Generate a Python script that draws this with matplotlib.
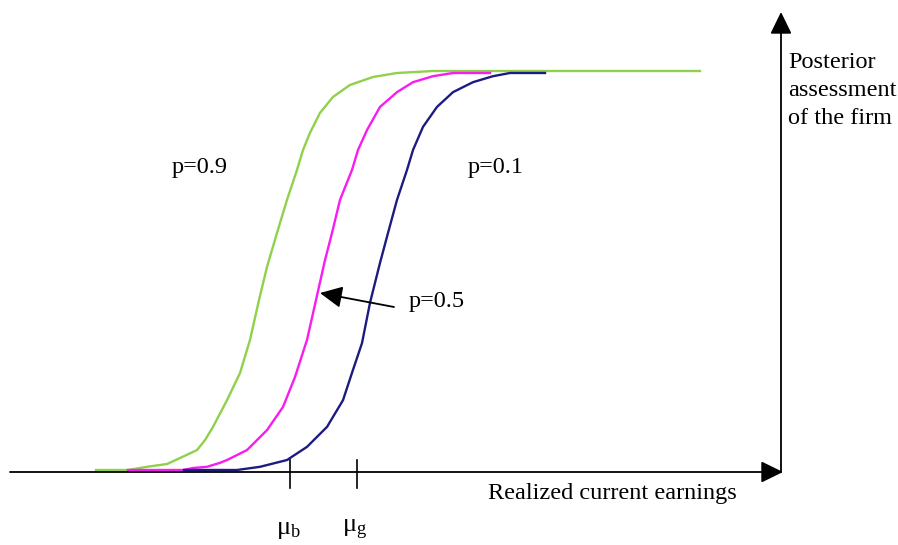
import matplotlib
matplotlib.use("Agg")
import matplotlib.pyplot as plt

# ---- data (x in earnings units, y = posterior assessment, 0..1) ----
green_x = [96, 128, 147, 167, 180, 197, 205, 213, 227, 240, 250, 259, 267, 277, 287, 297,
           303, 310, 320, 333, 350, 373, 397, 433, 700]
green_y = [0, 0, 0.008, 0.015, 0.030, 0.050, 0.075, 0.108, 0.175, 0.243, 0.326, 0.426, 0.509,
           0.594, 0.677, 0.752, 0.802, 0.845, 0.895, 0.935, 0.965, 0.985, 0.995, 1.0, 1.0]

magenta_x = [128, 183, 193, 207, 220, 227, 247, 267, 283, 295, 307, 316, 325, 332, 340, 352,
             358, 367, 380, 397, 413, 433, 453, 490]
magenta_y = [0, 0, 0.005, 0.008, 0.018, 0.025, 0.050, 0.100, 0.158, 0.233, 0.326, 0.426, 0.526,
             0.594, 0.677, 0.752, 0.802, 0.852, 0.910, 0.947, 0.972, 0.987, 0.995, 0.995]

navy_x = [184, 237, 260, 287, 307, 327, 343, 353, 362, 370, 380, 388, 397, 407, 413, 423,
          437, 453, 473, 493, 510, 545]
navy_y = [0, 0, 0.008, 0.025, 0.058, 0.108, 0.175, 0.251, 0.318, 0.419, 0.519, 0.594, 0.677,
          0.752, 0.802, 0.860, 0.910, 0.947, 0.972, 0.987, 0.995, 0.995]

series_labels = ["p=0.9", "p=0.5", "p=0.1"]
tick_positions = [290, 357]
tick_labels = [r"$\mu_{\mathrm{b}}$", r"$\mu_{\mathrm{g}}$"]
xlabel = "Realized current earnings"
ylabel = "Posterior\nassessment\nof the firm"

# ---- styling ----
plt.rcParams["font.family"] = ["Liberation Serif", "DejaVu Serif"]
plt.rcParams["mathtext.fontset"] = "custom"
plt.rcParams["mathtext.rm"] = "Liberation Serif"
plt.rcParams["mathtext.it"] = "Liberation Serif"
FS = 17.5

fig = plt.figure(figsize=(8.98, 5.45), dpi=100)
ax = fig.add_axes([0, 0, 1, 1])
ax.set_xlim(0, 898)
ax.set_ylim((470 - 545) / 399, 470 / 399)
ax.axis("off")


def yv(py):
    return (470 - py) / 399


ax.plot(green_x, green_y, color="#8fd14a", lw=1.7, solid_joinstyle="round")
ax.plot(magenta_x, magenta_y, color="#f81cf0", lw=1.7, solid_joinstyle="round")
ax.plot(navy_x, navy_y, color="#1c1c80", lw=1.7, solid_joinstyle="round")

arrow_kw = dict(arrowstyle="-|>,head_length=0.45,head_width=0.22", mutation_scale=30,
                lw=1.3, color="black", shrinkA=0, shrinkB=0)
# axes
ax.annotate("", xy=(783, yv(472)), xytext=(10, yv(472)), arrowprops=arrow_kw)
ax.annotate("", xy=(781, yv(12)), xytext=(781, yv(472)), arrowprops=arrow_kw)

# ticks
for tx, tl in zip(tick_positions, tick_labels):
    ax.plot([tx, tx], [yv(460), yv(488)], color="black", lw=1.2)
    ax.text(tx - 2, yv(530), tl, fontsize=FS + 1.5, ha="center", va="center")

ax.text(488, yv(494), xlabel, fontsize=FS, ha="left", va="center")
ax.text(788, yv(52), ylabel, fontsize=FS, ha="left", va="top", linespacing=1.44)

ax.text(172, yv(168), series_labels[0], fontsize=FS, ha="left", va="center")
ax.text(468, yv(168), series_labels[2], fontsize=FS, ha="left", va="center")
ax.text(409, yv(301), series_labels[1], fontsize=FS, ha="left", va="center")
ax.annotate("", xy=(320, yv(293)), xytext=(394, yv(307)), arrowprops=arrow_kw)

fig.savefig("out.png", dpi=100)
